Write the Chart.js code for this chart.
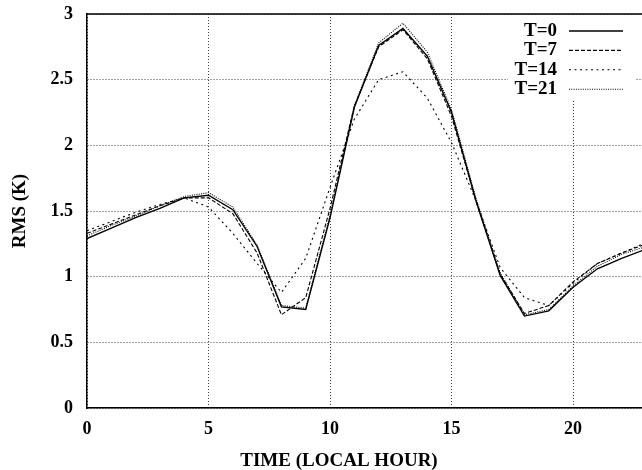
<!DOCTYPE html>
<html>
<head>
<meta charset="utf-8">
<script src="https://cdn.jsdelivr.net/npm/chart.js@4/dist/chart.umd.min.js"></script>
<style>
  html, body { margin: 0; padding: 0; background: #fff; overflow: hidden; }
  #wrap { width: 650px; height: 470px; }
</style>
</head>
<body>
<div id="wrap"><canvas id="c"></canvas></div>
<script>
// valeurs (heure locale 0..23)
const hours = [0,1,2,3,4,5,6,7,8,9,10,11,12,13,14,15,16,17,18,19,20,21,22,23];
const seriesLabels = ['T=0', 'T=7', 'T=14', 'T=21'];
const rmsT0  = [1.29,1.37,1.45,1.52,1.60,1.62,1.51,1.23,0.77,0.75,1.45,2.29,2.76,2.89,2.68,2.25,1.58,1.01,0.70,0.74,0.92,1.06,1.14,1.21];
const rmsT7  = [1.33,1.40,1.47,1.54,1.60,1.60,1.48,1.18,0.71,0.84,1.52,2.30,2.75,2.88,2.66,2.22,1.58,1.02,0.72,0.78,0.96,1.10,1.18,1.25];
const rmsT14 = [1.35,1.42,1.49,1.55,1.60,1.53,1.33,1.10,0.88,1.14,1.68,2.20,2.50,2.56,2.36,2.02,1.58,1.07,0.84,0.78,0.95,1.10,1.18,1.26];
const rmsT21 = [1.31,1.39,1.46,1.54,1.61,1.64,1.53,1.24,0.78,0.76,1.47,2.30,2.78,2.93,2.71,2.27,1.60,1.03,0.71,0.75,0.93,1.08,1.17,1.23];
const xTicks = [0, 5, 10, 15, 20];

const FONT = '"Liberation Serif", "Times New Roman", serif';
const dashes = [[], [4, 2], [2, 3.5], [1, 1.3]];
const widths = [1.4, 1.1, 1.1, 1.1];

const toPts = vals => vals.map((v, i) => ({ x: hours[i], y: v }));

const datasets = [rmsT0, rmsT7, rmsT14, rmsT21].map((vals, i) => ({
  label: seriesLabels[i],
  data: toPts(vals),
  borderColor: '#000',
  borderWidth: widths[i],
  borderDash: dashes[i],
  pointRadius: 0,
  tension: 0,
  fill: false
}));

// bordure haute, légende façon gnuplot, titre de l'axe x
const gnuplotBits = {
  id: 'gnuplotBits',
  afterDatasetsDraw(chart) {
    const { ctx, chartArea: a } = chart;
    ctx.save();
    ctx.strokeStyle = '#000';
    ctx.lineWidth = 1.5;
    ctx.beginPath();
    ctx.moveTo(a.left, a.top);
    ctx.lineTo(a.right, a.top);
    ctx.stroke();

    // légende
    ctx.fillStyle = '#fff';
    ctx.fillRect(508, a.top + 3, 128, 84);
    ctx.font = 'bold 19px ' + FONT;
    ctx.textAlign = 'right';
    ctx.textBaseline = 'middle';
    chart.data.datasets.forEach((ds, i) => {
      const y = 31 + i * 19.4;
      ctx.fillStyle = '#000';
      ctx.fillText(ds.label, 557, y);
      ctx.beginPath();
      ctx.setLineDash(ds.borderDash);
      ctx.lineWidth = ds.borderWidth;
      ctx.moveTo(569, y);
      ctx.lineTo(623, y);
      ctx.stroke();
    });
    ctx.setLineDash([]);

    ctx.fillStyle = '#000';
    ctx.textAlign = 'center';
    ctx.textBaseline = 'middle';
    ctx.fillText('TIME (LOCAL HOUR)', 339, 461);
    ctx.restore();
  }
};

new Chart(document.getElementById('c'), {
  type: 'line',
  data: { datasets },
  plugins: [gnuplotBits],
  options: {
    responsive: true,
    maintainAspectRatio: false,
    animation: false,
    layout: { padding: { left: 0, top: 14, right: 4, bottom: 0 } },
    plugins: { legend: { display: false }, tooltip: { enabled: false } },
    scales: {
      x: {
        type: 'linear',
        min: 0,
        max: 23,
        afterBuildTicks: s => { s.ticks = xTicks.map(v => ({ value: v })); },
        afterFit: s => { s.height = 62; s.paddingLeft = 0; s.paddingRight = 0; },
        ticks: {
          color: '#000',
          padding: 11,
          maxRotation: 0,
          font: { family: FONT, size: 18, weight: 'bold' }
        },
        grid: { color: '#444', lineWidth: 1, drawTicks: false },
        border: { display: true, color: '#000', width: 1.5, dash: [1, 2] }
      },
      y: {
        min: 0,
        max: 3,
        afterFit: s => { s.width = 87; s.paddingTop = 0; s.paddingBottom = 0; },
        ticks: {
          stepSize: 0.5,
          color: '#000',
          padding: 14,
          callback: v => String(v),
          font: { family: FONT, size: 18, weight: 'bold' }
        },
        grid: { color: '#444', lineWidth: 1, drawTicks: false },
        border: { display: true, color: '#000', width: 1.5, dash: [1, 2] },
        title: {
          display: true,
          text: 'RMS (K)',
          color: '#000',
          padding: { top: 9, bottom: 0 },
          font: { family: FONT, size: 19, weight: 'bold' }
        }
      }
    }
  }
});
</script>
</body>
</html>
